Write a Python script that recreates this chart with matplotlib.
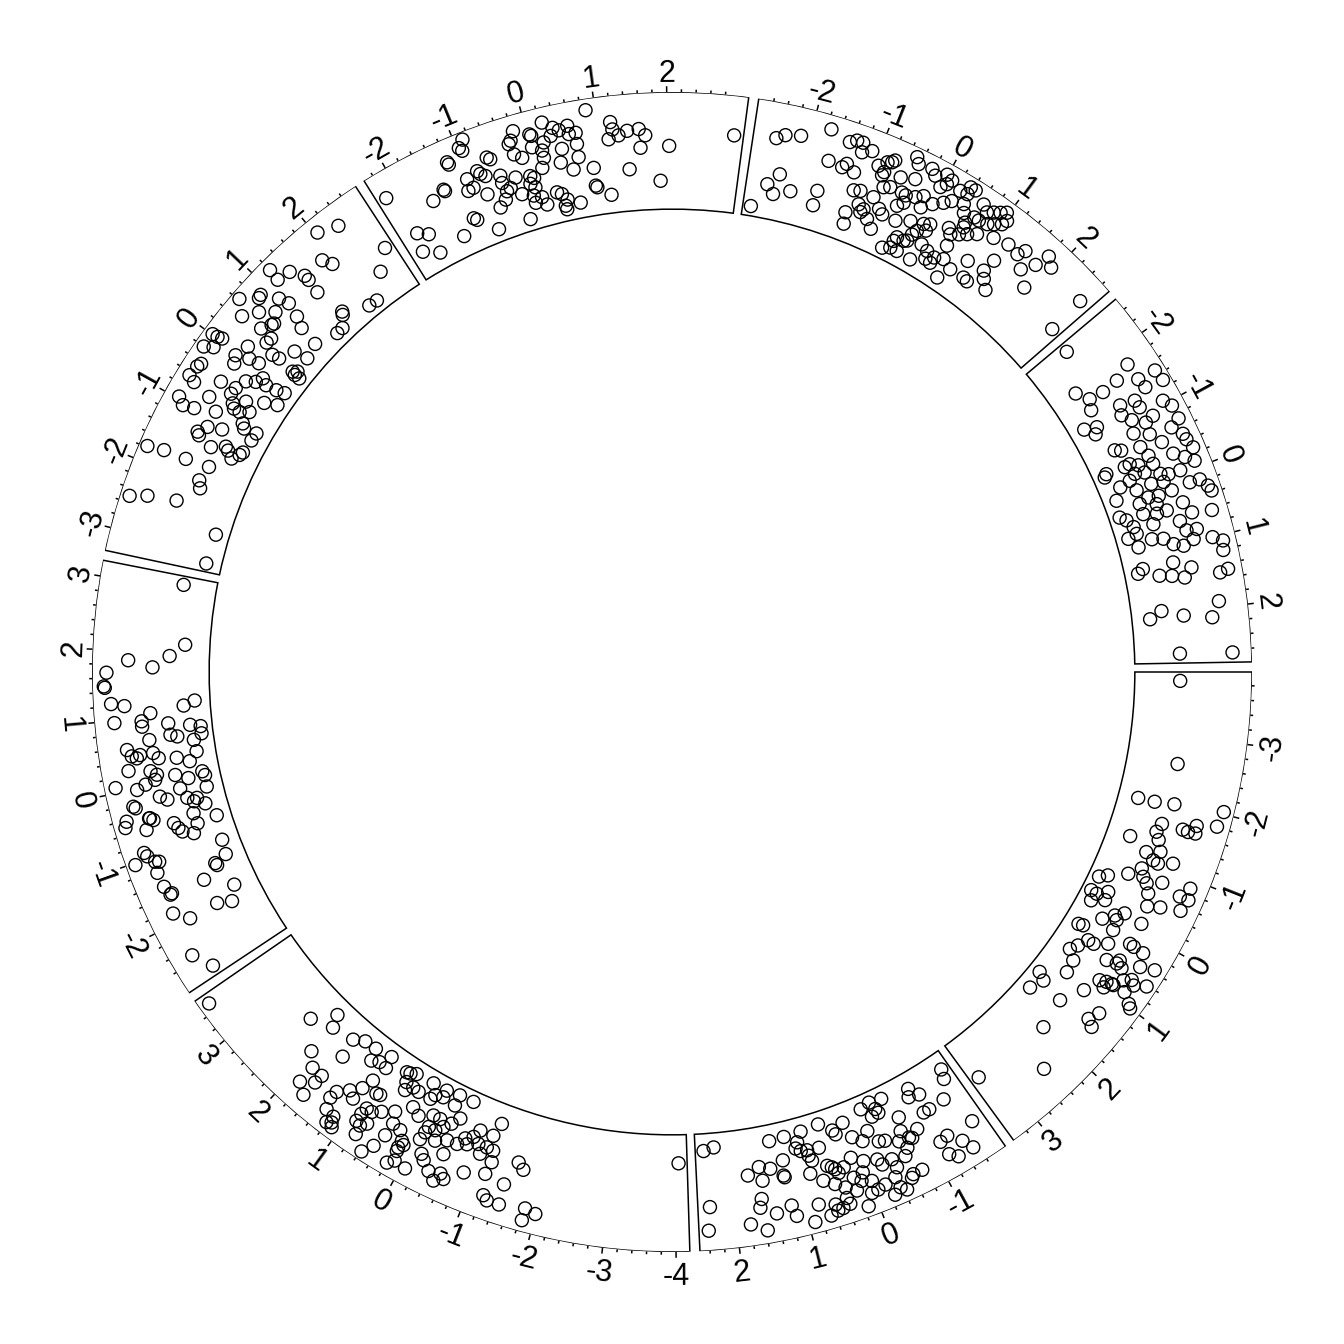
import numpy as np
import matplotlib
matplotlib.use("Agg")
import matplotlib.pyplot as plt

# one track, eight sectors (a..h), x ~ normal, y in [0, 1]
sectors = ["a", "b", "c", "d", "e", "f", "g", "h"]

x_a = [-3.85, -2.57, -1.91, -1.92, -1.96, -2.03, -1.62, -1.81, -1.28, -1.48,
       -1.63, -1.62, -1.74, -1.63, -1.37, -1.13, -1.21, -1.05, -1.11, -0.87,
       -1.03, -0.71, -0.76, -0.47, -0.55, -0.69, -0.79, -0.87, -0.21, -0.31,
       -0.20, -0.06, -0.17, -0.56, -0.71, -0.71, -0.53, -0.38, -0.45, -0.03,
       -0.13, 0.02, 0.11, 0.38, 0.36, -0.11, 0.18, 0.52, 0.68, 0.80,
       0.52, 0.40, 0.23, 0.24, 0.25, 0.62, 0.52, 0.92, 0.58, 0.60,
       0.44, 0.37, 1.13, 1.40, 1.47, 1.70, 0.93, 0.89, 0.87, 0.98,
       0.87, 0.73, 0.66, 0.71, 0.62, 0.86, 1.19, 1.54, 1.00, 0.96,
       1.32, 1.48, 1.54, 2.02, 2.45, 3.28]
y_a = [0.36, 0.42, 0.09, 0.27, 0.48, 1.01, 0.41, 0.98, 0.13, 0.38,
       0.64, 0.70, 0.77, 0.78, 0.43, 0.35, 0.49, 0.45, 0.66, 0.37,
       0.51, 0.26, 0.42, -0.01, 0.07, 0.48, 0.63, 0.93, -0.02, 0.15,
       0.05, 0.03, 0.16, 0.54, 0.86, 0.96, 0.93, 0.59, 0.72, 0.33,
       0.41, 0.37, 0.23, 0.04, 0.09, 0.62, 0.39, 0.22, 0.16, 0.11,
       0.29, 0.42, 0.62, 0.67, 0.79, 0.50, 0.62, 0.21, 0.61, 0.68,
       0.84, 0.99, 0.23, 0.00, 0.09, 0.03, 0.56, 0.63, 0.69, 0.64,
       0.71, 0.77, 0.84, 0.89, 1.01, 0.85, 0.49, 0.36, 1.00, 0.96,
       0.77, 0.72, 0.80, 0.42, 0.74, 0.36]

x_b = [2.40, 2.23, 2.36, 2.40, 1.31, 1.06, 0.77, 0.46, 0.27, 0.07,
       0.24, -0.29, -0.46, -0.67, -0.51, -0.53, -0.41, -1.14, -1.25, -1.08,
       -1.77, -1.72, -1.54, -1.27, -1.17, -0.79, -0.96, -0.79, -0.83, -0.72,
       -0.25, 0.01, -0.12, -0.35, -0.44, -0.63, -0.70, -1.30, -1.17, -1.45,
       -1.72, -1.53, -1.19, -1.29, 0.87, 0.85, 0.75, 0.75, 0.56, 0.72,
       0.92, 1.16, 1.55, 1.74, 1.53, 1.38, 1.20, 1.19, 0.80, 0.64,
       0.52, 0.46, 0.42, 0.39, 0.29, 0.20, 0.14, -0.02, 0.05, 0.11,
       -0.03, -0.22, -0.26, -0.42, -0.44, -0.62, -0.36, -0.19, -0.07, -0.37,
       -0.57, -0.44, -0.26, -0.75, -0.61, 0.49, 0.36, 0.22, 0.03, 0.39,
       0.37, 0.48, 0.57, 1.59, 1.63, 1.18, 1.14, 1.41, 0.80, 0.67,
       0.56, 0.14, 1.80, 1.58, 0.91]
y_b = [0.06, 0.03, 0.66, 0.91, 0.05, 0.04, 0.03, 0.01, 0.12, 0.08,
       0.17, 0.02, -0.01, 0.01, 0.08, 0.13, 0.14, 0.05, 0.16, 0.13,
       0.06, 0.16, 0.34, 0.35, 0.35, 0.27, 0.47, 0.51, 0.53, 0.41,
       0.26, 0.26, 0.34, 0.41, 0.43, 0.50, 0.60, 0.69, 0.71, 0.82,
       0.70, 0.94, 0.87, 0.94, 0.13, 0.23, 0.24, 0.30, 0.25, 0.36,
       0.19, 0.28, 0.30, 0.37, 0.45, 0.34, 0.44, 0.46, 0.49, 0.60,
       0.46, 0.49, 0.52, 0.57, 0.53, 0.67, 0.46, 0.54, 0.65, 0.73,
       0.77, 0.58, 0.65, 0.64, 0.74, 0.67, 0.83, 0.86, 0.88, 0.95,
       0.91, 1.00, 1.00, 0.88, 0.88, 0.67, 0.74, 0.81, 0.89, 0.85,
       0.92, 0.94, 0.88, 0.64, 0.73, 0.77, 0.89, 0.82, 0.83, 0.98,
       0.95, 1.01, 0.89, 0.98, 1.00]

x_c = [3.53, 2.40, 2.14, 2.05, 1.68, 1.51, 1.30, 1.63, 2.04, 1.24,
       1.12, 0.98, 1.01, 1.86, 1.68, 1.86, 1.69, 1.70, 1.36, 1.22,
       1.11, 1.09, 1.03, 0.87, 0.81, 1.38, 1.32, 1.18, 1.21, 1.11,
       1.15, 0.88, 0.86, 0.77, 0.88, 0.80, 0.73, 0.78, 0.65, 0.48,
       0.41, 0.27, 0.42, 0.17, 0.12, 0.17, 0.16, 0.48, 0.58, 0.20,
       0.12, -0.06, 0.66, 0.60, 0.51, 0.58, 0.44, 0.53, 0.33, 0.28,
       0.14, 0.19, 0.07, 0.11, -0.06, -0.06, -0.29, -0.54, -0.29, -0.06,
       -0.18, -0.08, -0.07, -0.19, -0.28, -0.37, -0.46, -0.05, -0.26, -0.42,
       -0.58, -0.72, -0.46, -0.17, -0.24, -0.37, -0.54, -0.61, -0.49, -0.84,
       -0.83, -1.05, -0.88, -1.02, -1.13, -0.96, -1.17, -1.14, -1.11, -1.45,
       -1.22, -1.29, -1.47, -1.56, -1.66, -1.84, -2.00, -1.84, -4.05, -0.66,
       -0.77]
y_c = [1.01, 0.28, 0.05, 0.18, 0.13, 0.06, 0.05, 0.34, 0.52, 0.18,
       0.14, 0.15, 0.02, 0.64, 0.64, 0.84, 0.74, 0.92, 0.67, 0.57,
       0.62, 0.47, 0.34, 0.43, 0.42, 0.76, 0.88, 0.90, 0.99, 1.00,
       0.96, 0.70, 0.62, 0.62, 0.79, 0.81, 0.75, 0.91, 0.56, 0.48,
       0.60, 0.62, 0.75, 0.71, 0.74, 0.79, 0.83, 0.91, 1.03, 0.99,
       0.93, 0.95, 0.06, 0.05, 0.02, 0.15, 0.16, 0.23, 0.17, 0.34,
       0.39, 0.01, 0.11, 0.17, 0.09, 0.01, -0.01, -0.01, 0.11, 0.31,
       0.31, 0.44, 0.51, 0.44, 0.37, 0.30, 0.21, 0.60, 0.54, 0.48,
       0.47, 0.43, 0.63, 0.73, 0.78, 0.86, 0.83, 0.87, 0.93, 0.72,
       0.24, 0.24, 0.38, 0.38, 0.39, 0.47, 0.51, 0.65, 0.09, 0.69,
       0.87, 0.91, 0.91, 0.42, 0.48, 0.87, 0.90, 1.00, 0.18, 0.38,
       0.33]

x_d = [3.08, 2.13, 1.94, 1.76, 1.86, 1.68, 1.49, 1.47, 1.24, 1.20,
       0.97, 1.07, 0.96, 0.88, 1.15, 1.22, 0.89, 0.71, 0.67, 0.83,
       0.79, 0.67, 0.58, 0.67, 0.57, 0.47, 0.43, 0.47, 0.47, 0.38,
       0.27, 0.21, 0.14, 0.07, 0.34, 0.39, 0.25, 0.05, -0.02, 0.08,
       -0.01, -0.21, 0.03, -0.02, 0.07, -0.19, -0.14, -0.26, -0.31, -0.35,
       -0.39, -0.47, -0.71, -0.24, -0.27, -0.42, -0.50, -0.46, -0.46, -0.50,
       -0.61, -0.63, -0.72, -0.79, -0.87, -0.74, -0.57, -1.12, -1.36, -1.43,
       -1.47, -1.60, -1.87, -2.09, -2.01, -0.91, -0.97, -1.03, -1.08, -1.10,
       -1.24, -1.46, -1.59, -1.60, -1.86, -2.03, -2.51, -2.79]
y_d = [0.23, 0.14, 0.30, 0.48, 0.74, 0.97, 1.00, 0.99, 0.93, 0.79,
       0.91, 0.52, 0.62, 0.62, 0.16, 0.04, 0.34, 0.33, 0.26, 0.11,
       0.00, 0.00, 0.09, 0.56, 0.81, 0.77, 0.72, 0.68, 0.54, 0.49,
       0.83, 0.60, 0.54, 0.57, 0.30, 0.08, 0.17, 0.06, 0.04, 0.35,
       0.22, 0.05, 0.68, 0.78, 1.00, 0.56, 0.33, 0.49, 0.28, 0.18,
       0.22, 0.11, 0.03, 0.86, 0.84, 0.97, 1.00, 0.73, 0.72, 0.69,
       0.79, 0.49, 0.46, 0.43, 0.32, 0.25, 0.26, 0.06, 0.08, 0.22,
       0.21, 0.40, 0.13, 0.23, 0.38, 0.89, 0.87, 1.02, 0.81, 0.77,
       0.83, 0.82, 0.77, 0.79, 0.85, 0.71, 0.88, 0.75]

x_e = [2.33, 2.04, 2.70, 1.84, 1.92, 2.43, 1.20, 1.18, 1.38, 1.50, 1.50,
       1.47, 0.62, 0.86, 0.81, 1.00, 1.05, 0.46, 0.66, 0.82, 0.68, 0.64,
       0.99, 0.91, 1.55, 1.52, 1.95, 2.10, 1.25, 1.37, 0.87, 0.01, 0.02,
       0.04, -0.20, -0.13, 0.50, 0.39, 0.48, 0.17, -0.04, -0.15, 0.04, 0.07,
       0.30, 0.32, 0.56, 0.61, -0.42, -0.48, -0.64, -0.69, -0.48, -0.44, -0.27,
       -0.08, -0.19, -0.14, -0.11, -0.07, 0.29, 0.34, 0.27, 0.27, -0.97, -1.05,
       -1.01, -0.76, -0.90, -0.55, -0.66, -0.72, -0.72, -0.53, -0.64, -0.39, -0.30,
       -1.33, -1.29, -1.16, -1.09, -0.85, -0.91, -0.88, -1.02, -1.41, -1.30, -1.34,
       -1.32, -1.26, -1.43, -1.78, -1.74, -1.73, -1.70, -1.95, -2.06, -2.51, -2.43,
       -2.36, -2.68, -3.18]
y_e = [0.88, 0.96, 0.40, 0.70, 0.60, 0.22, 1.00, 0.87, 0.84, 0.70, 0.64,
       0.48, 1.03, 0.89, 0.88, 0.72, 0.61, 0.89, 0.78, 0.65, 0.58, 0.59,
       0.45, 0.33, 0.15, 0.12, 0.01, 0.00, 0.02, 0.02, 0.11, 1.02, 0.96,
       0.91, 1.02, 0.93, 0.65, 0.51, 0.50, 0.64, 0.69, 0.65, 0.55, 0.44,
       0.38, 0.30, 0.22, 0.07, 0.94, 0.96, 0.98, 0.90, 0.66, 0.49, 0.44,
       0.31, 0.35, 0.24, 0.12, 0.03, 0.10, 0.06, 0.00, 0.06, 0.96, 0.88,
       0.76, 0.68, 0.54, 0.50, 0.43, 0.39, 0.32, 0.32, 0.23, 0.15, 0.02,
       0.58, 0.61, 0.54, 0.39, 0.23, 0.19, 0.05, 0.06, 0.41, 0.27, 0.23,
       0.10, 0.08, 0.16, 1.03, 0.85, 0.60, 0.34, 0.38, 0.34, 1.02, 0.84,
       0.53, 0.02, 0.04]

x_f = [-2.20, -0.88, -0.97, -0.94, -1.20, -1.19, -0.65, -0.61, -0.85, -0.82, -0.76,
       -1.03, -1.08, -0.99, -0.55, -0.56, -0.46, -0.53, -0.83, -1.41, -1.40, -1.62,
       -0.59, -0.71, -0.34, -0.25, -0.29, -0.18, 0.03, 0.05, 0.24, 0.37, 0.45,
       0.32, 0.58, 0.58, 0.68, 0.20, 0.02, -0.16, -0.26, 0.15, 0.15, 0.09,
       0.44, 0.38, 0.66, 0.67, 0.55, 0.86, 0.87, -0.12, -0.07, -0.15, -0.09,
       -0.32, -0.15, -0.15, -0.03, 0.02, 0.22, 0.29, 0.36, 0.31, 0.32, 0.56,
       0.87, 0.85, 1.08, 1.19, 1.21, 1.14, 1.29, 1.42, 1.59, 1.68, 1.60,
       2.03, 1.41, 1.89, 2.98, -2.07, -1.92, -2.14, -1.90, -1.43, -1.17, -1.13,
       -0.86, -0.31]
y_f = [0.84, 1.04, 0.97, 0.93, 0.88, 0.85, 0.77, 0.74, 0.67, 0.63, 0.59,
       0.63, 0.51, 0.52, 0.54, 0.46, 0.38, 0.36, 0.40, 0.63, 0.61, 0.57,
       0.28, 0.22, 0.47, 0.86, 0.83, 0.95, 0.87, 0.85, 0.96, 0.88, 0.84,
       0.80, 0.87, 0.78, 0.78, 0.75, 0.73, 0.65, 0.71, 0.67, 0.59, 0.49,
       0.64, 0.50, 0.52, 0.66, 0.40, 0.38, 1.00, 0.44, 0.41, 0.36, 0.31,
       0.28, 0.23, 0.15, 0.19, 0.10, 0.20, 0.17, 0.10, 0.04, 0.00, 0.04,
       0.17, 0.19, 0.07, 0.84, 0.76, 0.66, 0.69, 0.73, 0.74, 0.67, 0.54,
       0.55, 0.32, 0.18, 0.70, 0.35, 0.28, 0.15, 0.05, 0.09, 0.22, 0.19,
       0.01, 0.00]

x_g = [-2.47, -2.35, -2.13, -1.74, -2.31, -2.47, -2.35, -2.09, -1.68, -1.68, -2.67,
       -1.44, -1.35, -1.26, -1.23, -1.10, -1.65, -1.43, -1.38, -1.24, -0.94, -0.84,
       -0.78, -0.75, -0.83, -0.84, -0.58, -0.66, -0.75, -0.49, -0.43, -0.38, -0.23,
       -0.15, -0.01, 0.05, -0.01, 0.09, 0.26, 0.36, 0.37, 0.44, -1.15, -1.05,
       -1.15, -1.11, -1.00, -0.90, -0.93, -0.83, -0.68, -0.60, -0.79, -0.67, -0.45,
       -0.38, -0.40, -0.47, -0.26, -0.16, 0.01, -0.12, 0.14, 0.23, 0.40, 0.47,
       0.56, 0.64, 0.74, 0.82, 0.90, 0.97, 0.92, 1.01, 1.04, 0.84, 0.71,
       0.63, -0.37, -0.16, 0.04, 0.13, 0.12, 0.00, -0.04, -0.06, -0.23, -0.25,
       -0.37, -0.25, -0.13, -0.11, 0.13, 0.17, 0.30, 0.45, 0.34, 0.44, 0.59,
       0.52, 0.47, 0.58, 0.40, 0.58, 0.68, 0.80, 1.03, 1.26, 1.45, 1.51,
       1.75, 1.81, 1.94, 1.63, 1.85, 0.92, 1.24, 1.21, 1.02, 1.10, 1.29,
       1.42, 0.67, 0.77, 2.60, 2.57]
y_g = [0.74, 0.79, 0.82, 0.97, 0.37, 0.24, 0.15, 0.22, 0.30, 0.14, -0.02,
       0.90, 0.94, 0.94, 0.84, 0.89, 0.64, 0.62, 0.67, 0.61, 0.77, 0.84,
       0.86, 0.89, 0.73, 0.69, 0.75, 0.61, 0.58, 1.02, 0.96, 0.80, 0.98,
       0.93, 1.00, 0.91, 0.85, 0.97, 0.92, 1.01, 0.93, 1.01, 0.43, 0.45,
       0.18, 0.06, 0.31, 0.28, 0.24, 0.44, 0.35, 0.31, 0.20, 0.12, 0.46,
       0.52, 0.60, 0.61, 0.63, 0.68, 0.65, 0.56, 0.72, 0.78, 0.82, 0.74,
       0.66, 0.93, 0.88, 0.92, 0.96, 1.00, 0.82, 0.87, 0.93, 0.78, 0.76,
       0.76, 0.31, 0.38, 0.42, 0.45, 0.37, 0.32, 0.26, 0.18, 0.16, 0.11,
       -0.01, 0.03, 0.03, 0.16, 0.02, 0.22, 0.19, 0.17, 0.11, 0.10, 0.21,
       0.35, 0.47, 0.52, 0.52, 0.61, 0.57, 0.63, 0.70, 0.74, 0.72, 0.80,
       0.76, 0.92, 0.85, 0.62, 0.50, 0.34, 0.51, 0.36, 0.17, 0.16, 0.29,
       0.21, 0.01, 0.16, 0.40, 0.82]

x_h = [-2.44, -1.75, -1.47, -1.64, -1.49, -1.30, -1.34, -1.83, -1.61, -1.63, -1.30,
       -1.25, -1.05, -1.47, -1.13, -1.16, -0.93, -0.93, -0.73, -1.02, -0.89, -1.26,
       -1.19, -1.10, -0.83, -0.71, -0.66, -0.51, -0.42, -0.73, -0.68, -0.60, -0.53,
       -0.31, -0.28, -0.10, -0.20, -0.43, -0.43, -0.36, -0.29, -0.42, -0.40, -0.44,
       -0.26, -0.22, -0.11, -0.06, -0.05, 0.17, 0.16, 0.29, 0.37, -0.19, -0.15,
       -0.02, 0.02, 0.18, 0.03, -0.01, 0.16, 0.19, 0.30, 0.21, 0.40, 0.38,
       0.44, 0.44, 0.58, 0.63, 0.31, 0.39, 0.53, 0.58, 0.65, 0.81, 0.83,
       0.65, 0.69, 0.87, 0.80, 0.84, 0.96, 1.02, 0.96, 1.00, 1.08, 1.21,
       1.23, 1.36, 1.29, 1.23, 1.39, 1.43, 1.49, 1.51, 1.48, 1.91, 2.06,
       1.95, 2.06, 2.13, 2.64, 2.65]
y_h = [0.36, 0.80, 1.01, 0.61, 0.81, 1.03, 0.83, 0.17, 0.42, 0.26, 0.50,
       0.66, 0.92, 0.21, 0.67, 0.46, 0.75, 0.98, 0.98, 0.53, 0.65, 0.04,
       0.17, 0.12, 0.48, 0.63, 0.87, 0.95, 0.96, 0.22, 0.28, 0.48, 0.71,
       0.77, 0.99, 0.95, 0.87, 0.52, 0.30, 0.38, 0.53, 0.24, 0.00, 0.03,
       0.31, 0.41, 0.56, 0.64, 0.77, 0.93, 0.82, 0.99, 1.01, 0.23, 0.11,
       0.43, 0.56, 0.61, 0.02, 0.26, 0.35, 0.46, 0.41, 0.24, 0.68, 0.24,
       0.38, 0.49, 0.74, 0.95, -0.01, 0.05, 0.10, 0.31, 0.59, 0.63, 0.74,
       0.11, 0.01, 0.09, 0.25, 0.37, 0.46, 0.56, 0.68, 0.88, 0.98, 0.96,
       0.41, 0.59, 0.02, 0.08, 0.24, 0.37, 0.50, 0.88, 0.97, 0.82, 0.07,
       0.20, 0.43, 0.73, 0.36, 0.92]

xs = dict(zip(sectors, [x_a, x_b, x_c, x_d, x_e, x_f, x_g, x_h]))
ys = dict(zip(sectors, [y_a, y_b, y_c, y_d, y_e, y_f, y_g, y_h]))

# circular layout: start at 3 o'clock, go clockwise, 1 degree gaps,
# 1 degree padding inside each cell, widths proportional to the x range
gap = 1.0
pad = 1.0
r_in, r_out = 0.798, 1.0
ypad = 0.02
lw = 1.1

lims = {s: (min(xs[s]), max(xs[s])) for s in sectors}
total = sum(hi - lo for lo, hi in lims.values())
k = (360 - len(sectors) * (gap + 2 * pad)) / total  # degrees per x unit

fig = plt.figure(figsize=(13.44, 13.44), dpi=100)
R = 580 / 1344
ax = fig.add_axes([0.5 - R, 0.5 - R, 2 * R, 2 * R], projection="polar")
ax.set_theta_zero_location("E")
ax.set_theta_direction(-1)
ax.set_ylim(0, 1)
ax.axis("off")

start = 0.0
for s in sectors:
    lo, hi = lims[s]
    w = (hi - lo) * k + 2 * pad
    ax.bar(np.radians(start + w / 2), r_out - r_in, width=np.radians(w), bottom=r_in,
           fill=False, edgecolor="black", linewidth=lw)

    def to_deg(v, lo=lo, start=start):
        return start + pad + (np.asarray(v) - lo) * k

    th = np.radians(to_deg(xs[s]))
    rr = r_in + ypad + np.asarray(ys[s]) * (r_out - r_in - 2 * ypad)
    ax.scatter(th, rr, s=88, facecolors="none", edgecolors="black", linewidths=1.0,
               clip_on=False, zorder=3)

    # axis on top of the cell: major ticks at integers, 4 minor ticks between
    for v in np.arange(np.ceil(lo * 5), np.floor(hi * 5) + 1) / 5:
        major = abs(v - round(v)) < 1e-9
        tl = 0.0100 if major else 0.0048
        deg = float(to_deg(v))
        t = np.radians(deg)
        ax.plot([t, t], [r_out, r_out + tl], color="black", linewidth=lw,
                clip_on=False, solid_capstyle="butt")
        if major:
            phi = (-deg) % 360
            if phi < 180:
                rot, va, rl = phi - 90, "bottom", r_out + 0.006
            else:
                rot, va, rl = phi + 90, "top", r_out + 0.017
            ax.text(t, rl, str(int(round(v))), rotation=rot, rotation_mode="anchor",
                    ha="center", va=va, fontsize=22, family="Liberation Sans", clip_on=False)
    start += w + gap

fig.savefig("out.png", dpi=100)
